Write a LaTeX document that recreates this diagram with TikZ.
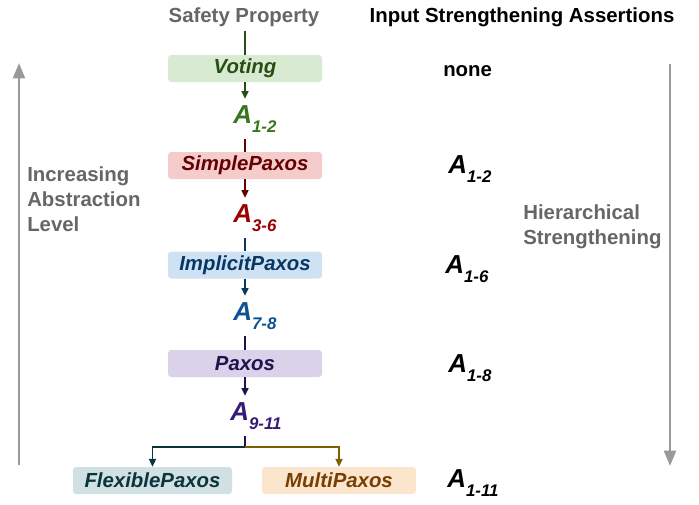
\documentclass[tikz,border=0pt]{standalone}
\usepackage{fontspec}
\setmainfont{Liberation Sans}
\usetikzlibrary{arrows.meta}

\definecolor{votefill}{HTML}{D9EAD3}
\definecolor{votetext}{HTML}{274E13}
\definecolor{voteasn}{HTML}{38761D}
\definecolor{simplefill}{HTML}{F4CCCC}
\definecolor{simpletext}{HTML}{660000}
\definecolor{simpleasn}{HTML}{990000}
\definecolor{implfill}{HTML}{CFE2F3}
\definecolor{impltext}{HTML}{073763}
\definecolor{implasn}{HTML}{0B5394}
\definecolor{paxfill}{HTML}{D9D2E9}
\definecolor{paxtext}{HTML}{20124D}
\definecolor{paxasn}{HTML}{351C75}
\definecolor{flexfill}{HTML}{D0E0E3}
\definecolor{flextext}{HTML}{0C343D}
\definecolor{multifill}{HTML}{FCE5CD}
\definecolor{multitext}{HTML}{783F04}
\definecolor{multiline}{HTML}{7F6000}
\definecolor{labelgray}{HTML}{666666}
\definecolor{arrowgray}{HTML}{999999}

\newcommand{\asn}[1]{{\fontsize{18.5}{18.5}\selectfont A}\raisebox{-7pt}{\fontsize{12}{12}\selectfont #1}}
\newcommand{\basefont}{\fontsize{14.5}{17.8}\selectfont\bfseries}

\begin{document}
\begin{tikzpicture}[
    stage/.style={rectangle, rounded corners=0.08cm, minimum width=3.85cm, minimum height=0.675cm, inner sep=0, font=\basefont\itshape},
    asn/.style={anchor=base west, inner xsep=0, inner ysep=0.15cm, font=\basefont\itshape},
    flow/.style={line width=1pt, -{Triangle[width=5pt,length=5.5pt]}},
    level/.style={line width=1.8pt, draw=arrowgray, -{Triangle[width=8.5pt,length=11pt]}}
  ]
    \useasboundingbox (0,0) rectangle (17.475,12.6);

    % headers
    \node[anchor=base, text=labelgray, font=\basefont] (safety) at (6.1,12.05) {Safety Property};
    \node[anchor=base, font=\basefont] (inputhead) at (13.05,12.05) {Input Strengthening Assertions};

    % protocol chain
    \node[stage, fill=votefill, text=votetext] (voting) at (6.125,10.8875) {Voting};
    \node[asn, text=voteasn] (a12) at (5.825,9.525) {\asn{1-2}};
    \node[stage, fill=simplefill, text=simpletext] (simple) at (6.125,8.4625) {SimplePaxos};
    \node[asn, text=simpleasn] (a36) at (5.825,7.05) {\asn{3-6}};
    \node[stage, fill=implfill, text=impltext] (implicit) at (6.125,5.975) {ImplicitPaxos};
    \node[asn, text=implasn] (a78) at (5.825,4.6) {\asn{7-8}};
    \node[stage, fill=paxfill, text=paxtext] (paxos) at (6.125,3.5125) {Paxos};
    \node[asn, text=paxasn] (a911) at (5.75,2.1) {\asn{9-11}};
    \node[stage, fill=flexfill, text=flextext, minimum width=3.975cm] (flexible) at (3.8125,0.5875) {FlexiblePaxos};
    \node[stage, fill=multifill, text=multitext] (multi) at (8.475,0.5875) {MultiPaxos};
    \coordinate (split) at (6.125,1.425);

    \draw[line width=1pt, votetext] (voting |- safety.south) -- (voting);
    \draw[flow, votetext] (voting) -- (voting |- a12.north);
    \draw[line width=1pt, simpletext] (simple |- a12.south) -- (simple);
    \draw[flow, simpletext] (simple) -- (simple |- a36.north);
    \draw[line width=1pt, impltext] (implicit |- a36.south) -- (implicit);
    \draw[flow, impltext] (implicit) -- (implicit |- a78.north);
    \draw[line width=1pt, paxtext] (paxos |- a78.south) -- (paxos);
    \draw[flow, paxtext] (paxos) -- (paxos |- a911.north);
    \draw[line width=1pt, paxtext] (paxos |- a911.south) -- (split);
    \draw[flow, flextext] (split) -| (flexible.north);
    \draw[flow, multiline] (split) -| (multi.north);

    % assertions column
    \node[anchor=base west, inner sep=0, font=\basefont] (none) at (11.075,10.7) {none};
    \node[anchor=base west, inner sep=0, font=\basefont\itshape] (r12) at (11.2,8.275) {\asn{1-2}};
    \node[anchor=base west, inner sep=0, font=\basefont\itshape] (r16) at (11.125,5.775) {\asn{1-6}};
    \node[anchor=base west, inner sep=0, font=\basefont\itshape] (r18) at (11.2,3.3) {\asn{1-8}};
    \node[anchor=base west, inner sep=0, font=\basefont\itshape] (r111) at (11.175,0.425) {\asn{1-11}};

    % side arrows
    \coordinate (lvlbot) at (0.475,0.975);
    \coordinate (lvltop) at (0.475,11.025);
    \draw[level] (lvlbot) -- (lvltop);
    \node[anchor=west, align=left, inner sep=0, text=labelgray, font=\basefont] (lvllabel) at (0.675,7.625) {Increasing\\Abstraction\\Level};

    \coordinate (hstop) at (16.75,11.0);
    \coordinate (hsbot) at (16.75,0.95);
    \draw[level] (hstop) -- (hsbot);
    \node[anchor=west, align=left, inner sep=0, text=labelgray, font=\basefont] (hslabel) at (13.075,6.925) {Hierarchical\\Strengthening};
\end{tikzpicture}
\end{document}
